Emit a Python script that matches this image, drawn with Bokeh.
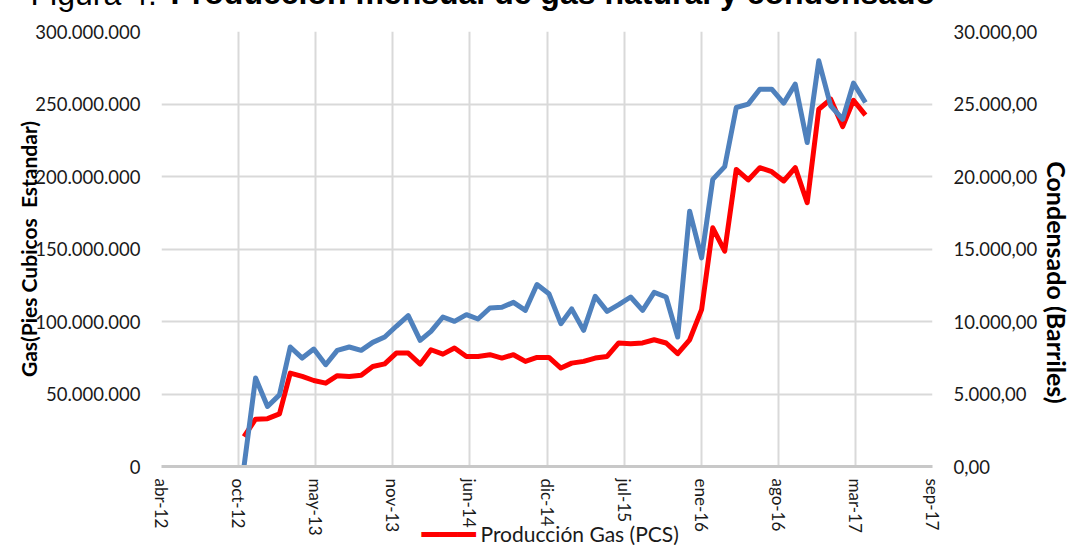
import math
import pandas as pd
from bokeh.plotting import figure
from bokeh.models import Range1d, LinearAxis, FixedTicker, Title
from bokeh.embed import file_html
from bokeh.resources import INLINE

# ---------------- data ----------------
months = pd.date_range("2012-11-01", periods=54, freq="MS")

# Producción de gas (millones de pies cúbicos estándar)
gas_mmpcs = [20.6, 32.6, 33.0, 36.3, 64.4, 62.1, 59.3, 57.5, 62.6, 62.1,
             63.0, 69.0, 70.8, 78.2, 78.2, 70.6, 80.5, 77.5, 81.7, 75.9,
             75.9, 77.1, 74.8, 77.1, 72.5, 75.2, 75.2, 67.9, 71.3, 72.5,
             74.8, 75.9, 85.2, 84.7, 85.2, 87.4, 85.2, 77.8, 87.4, 108.2,
             164.6, 148.5, 204.9, 197.6, 206.1, 203.3, 196.9, 206.1, 181.9, 246.4,
             253.3, 234.4, 252.6, 242.3]

# Producción de condensado (barriles)
condensado_bbl = [0, 6100, 4140, 4940, 8240, 7480, 8100, 7020, 8010, 8240,
                  8010, 8560, 8930, 9670, 10400, 8700, 9320, 10310, 10010, 10470,
                  10170, 10930, 10980, 11320, 10770, 12550, 11920, 9850, 10870, 9390,
                  11740, 10700, 11160, 11690, 10770, 12010, 11690, 8930, 17610, 14390,
                  19800, 20680, 24760, 24990, 26020, 26020, 25060, 26370, 22340, 27980,
                  24870, 23950, 26440, 25100]

title_plain = "Figura 4."
title_bold = "Producción mensual de gas natural y condensado"
y_left_title = "Gas(Pies Cubicos \u00a0Estandar)"
y_right_title = "Condensado (Barriles)"
legend_label = "Producción Gas (PCS)"

x_tick_labels = ["abr-12", "oct-12", "may-13", "nov-13", "jun-14", "dic-14",
                 "jul-15", "ene-16", "ago-16", "mar-17", "sep-17"]
x_axis_start = pd.Timestamp("2012-04-01")   # Excel date axis, major unit 200 days
x_major_unit_days = 200

left_ticks = [0, 50, 100, 150, 200, 250, 300]          # millones PCS
right_ticks = [0, 5000, 10000, 15000, 20000, 25000, 30000]

# ---------------- helpers ----------------
EXCEL_EPOCH = pd.Timestamp("1899-12-30")
x = [(d - EXCEL_EPOCH).days for d in months]
x0 = (x_axis_start - EXCEL_EPOCH).days
x_ticks = [x0 + i * x_major_unit_days for i in range(len(x_tick_labels))]


def miles(v):
    return f"{v:,.0f}".replace(",", ".")


FONT = "Lato"
GRID = "#d9d9d9"
TXT = "#1a1a1a"
RED = "#ff0000"
BLUE = "#4f81bd"
SHIFT = 49   # the canvas is pulled up so that the title is cropped like the reference

p = figure(frame_width=771, frame_height=435,
           min_border_left=161, min_border_right=159,
           min_border_top=32, min_border_bottom=79,
           x_range=Range1d(x_ticks[0], x_ticks[-1]),
           y_range=Range1d(left_ticks[0], left_ticks[-1]),
           output_backend="svg", toolbar_location=None, title=None,
           styles={"margin-top": "-%dpx" % SHIFT, "margin-bottom": "-12px"})
p.extra_y_ranges = {"cond": Range1d(right_ticks[0], right_ticks[-1])}
p.outline_line_color = None
p.background_fill_color = "white"
p.border_fill_color = "white"

# x axis
xa = p.xaxis[0]
xa.ticker = FixedTicker(ticks=x_ticks)
xa.major_label_overrides = {t: l for t, l in zip(x_ticks, x_tick_labels)}
xa.major_label_orientation = -math.pi / 2
xa.major_tick_in = xa.major_tick_out = 0
xa.minor_tick_in = xa.minor_tick_out = 0
xa.axis_line_color = "#c8c8c8"
xa.axis_line_width = 3
xa.major_label_standoff = 12
xa.major_label_text_font = FONT
xa.major_label_text_font_size = "17px"
xa.major_label_text_color = TXT

# left axis
ya = p.yaxis[0]
ya.ticker = FixedTicker(ticks=left_ticks)
ya.major_label_overrides = {t: miles(t * 1_000_000) for t in left_ticks}
ya.axis_line_color = None
ya.major_tick_in = ya.major_tick_out = 0
ya.minor_tick_in = ya.minor_tick_out = 0
ya.major_label_standoff = 21
ya.major_label_text_font = FONT
ya.major_label_text_font_size = "18.5px"
ya.major_label_text_color = TXT
ya.axis_label = y_left_title
ya.axis_label_standoff = -9
ya.axis_label_text_font = FONT
ya.axis_label_text_font_style = "bold"
ya.axis_label_text_font_size = "21px"
ya.axis_label_text_color = "black"

# right axis
ra = LinearAxis(y_range_name="cond", ticker=FixedTicker(ticks=right_ticks))
ra.major_label_overrides = {t: miles(t) + ",00" for t in right_ticks}
ra.axis_line_color = None
ra.major_tick_in = ra.major_tick_out = 0
ra.minor_tick_in = ra.minor_tick_out = 0
ra.major_label_standoff = 21
ra.major_label_text_font = FONT
ra.major_label_text_font_size = "18.5px"
ra.major_label_text_color = TXT
ra.axis_label = "\u00a0" * 11 + y_right_title
ra.axis_label_standoff = 2
ra.axis_label_text_font = FONT
ra.axis_label_text_font_style = "bold"
ra.axis_label_text_font_size = "25px"
ra.axis_label_text_color = "black"
p.add_layout(ra, "right")

# grids
p.xgrid.ticker = FixedTicker(ticks=x_ticks)
p.ygrid.ticker = FixedTicker(ticks=left_ticks)
for g in (p.xgrid[0], p.ygrid[0]):
    g.grid_line_color = GRID
    g.grid_line_width = 2

# series
r_gas = p.line(x, gas_mmpcs, line_color=RED, line_width=5, line_join="round")
r_cond = p.line(x, condensado_bbl, y_range_name="cond", line_color=BLUE,
                line_width=5, line_join="round")

# title (cropped at the top, as in the reference); both parts share one baseline
TITLE_H = 37.5
t_bold = Title(text=title_bold, align="left", offset=9, standoff=42,
               text_font="Liberation Sans", text_font_style="bold",
               text_font_size="32px", text_color="black")
t_plain = Title(text=title_plain, align="left", offset=-131,
                standoff=-46 - 2 * TITLE_H,
                text_font="Liberation Sans", text_font_style="normal",
                text_font_size="32px", text_color="black")
p.add_layout(t_bold, "above")
p.add_layout(t_plain, "above")

# legend entry for the gas series, drawn under the tick labels as in the
# reference (zero-height text panels placed before the x axis)
leg_swatch = Title(text="\u2501\u2501\u2501", align="left", offset=260,
                   standoff=-171, text_font="DejaVu Sans",
                   text_font_size="30px", text_color=RED)
leg_text = Title(text=legend_label, align="left", offset=319,
                 standoff=-159, text_font=FONT, text_font_style="normal",
                 text_font_size="21px", text_color=TXT)
p.below = [leg_swatch, leg_text] + list(p.below)

open("out.html", "w").write(file_html(p, INLINE))
